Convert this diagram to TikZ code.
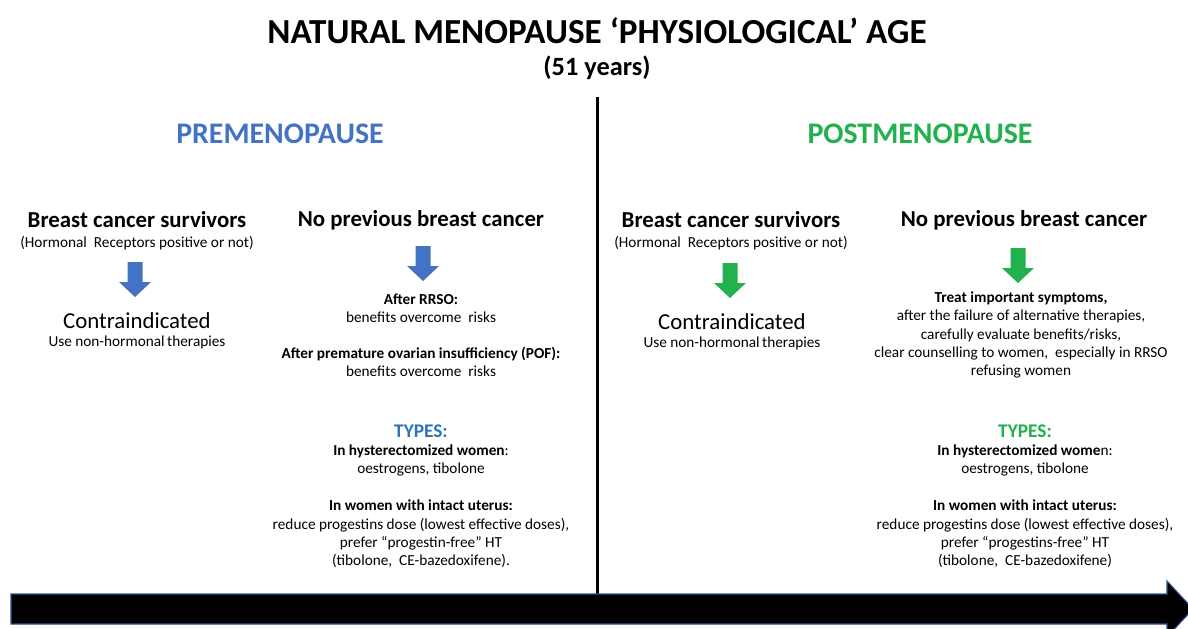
\documentclass[tikz,border=0pt]{standalone}
\usepackage{fontspec}
\setmainfont{Carlito}
\usetikzlibrary{positioning}

\definecolor{preblue}{HTML}{4472C4}
\definecolor{typeblue}{HTML}{2E75B6}
\definecolor{postgreen}{HTML}{22B14C}
\definecolor{baredge}{HTML}{2F528F}

\tikzset{
  heading/.style={font=\fontsize{13}{15}\selectfont\bfseries, inner sep=0pt},
  phase/.style={font=\fontsize{17}{20}\selectfont\bfseries, inner sep=0pt},
  verdict/.style={font=\fontsize{13}{15}\selectfont, inner sep=0pt},
  note/.style={font=\fontsize{8.7}{10.5}\selectfont, align=center, inner sep=0pt},
  types/.style={font=\fontsize{11}{13}\selectfont\bfseries, inner sep=0pt},
  blockarrow/.pic={\fill[pic actions] (-7.5,0) -- (7.5,0) -- (7.5,20) -- (16,20) -- (0,35) -- (-16,20) -- (-7.5,20) -- cycle;}
}

\begin{document}
\begin{tikzpicture}[x=0.02cm, y=-0.02cm]
    \useasboundingbox (0,0) rectangle (1188,629);

    % Title
    \node[font=\fontsize{20}{24}\selectfont\bfseries, inner sep=0pt] (title) at (597,31) {NATURAL MENOPAUSE ‘PHYSIOLOGICAL’ AGE};
    \node[font=\fontsize{15}{18}\selectfont\bfseries, inner sep=0pt] (age) at (597,68) {(51 years)};

    % Divider and time axis
    \coordinate (divtop) at (597,97);
    \coordinate (divbot) at (597,594);
    \draw[line width=0.06cm] (divtop) -- (divbot);
    \fill[black, draw=baredge, line width=0.6pt] (11,594) -- (1167,594) -- (1167,581) -- (1193,609) -- (1167,637) -- (1167,624) -- (11,624) -- cycle;

    % Phases
    \node[phase, text=preblue] (pre) at (280,134) {PREMENOPAUSE};
    \node[phase, text=postgreen] (post) at (920,134) {POSTMENOPAUSE};

    % Premenopause, breast cancer survivors
    \node[heading] (preBCS) at (137,220) {Breast cancer survivors};
    \node[note] (preHR) at (137,243) {(Hormonal\ \ Receptors positive or not)};
    \pic[fill=preblue] (preArrA) at (135,262) {blockarrow};
    \node[verdict] (preCI) at (137,321) {Contraindicated};
    \node[note] (preNH) at (137,342) {Use non-hormonal\,therapies};

    % Premenopause, no previous breast cancer
    \node[heading] (preNo) at (421,220) {No previous breast cancer};
    \pic[fill=preblue] (preArrB) at (423,246) {blockarrow};
    \node[note] (preRRSO) at (421,308) {\textbf{After RRSO:}\\benefits overcome\ \ risks};
    \node[note] (prePOF) at (421,362) {\textbf{After premature ovarian insufficiency (POF):}\\benefits overcome\ \ risks};
    \node[types, text=typeblue] (preTypes) at (421,431) {TYPES:};
    \node[note] (preHyst) at (421,460.5) {\textbf{In hysterectomized women}:\\oestrogens, tibolone};
    \node[note] (preUter) at (421,534) {\textbf{In women with intact uterus:}\\reduce progestins dose (lowest effective doses),\\prefer “progestin-free” HT\\(tibolone,\ \ CE-bazedoxifene).};

    % Postmenopause, breast cancer survivors
    \node[heading] (postBCS) at (731,220) {Breast cancer survivors};
    \node[note] (postHR) at (731,243) {(Hormonal\ \ Receptors positive or not)};
    \pic[fill=postgreen] (postArrA) at (730,263) {blockarrow};
    \node[verdict] (postCI) at (732,322) {Contraindicated};
    \node[note] (postNH) at (732,343) {Use non-hormonal\,therapies};

    % Postmenopause, no previous breast cancer
    \node[heading] (postNo) at (1024,220) {No previous breast cancer};
    \pic[fill=postgreen] (postArrB) at (1018,248) {blockarrow};
    \node[note] (postTreat) at (1021,335) {\textbf{Treat important symptoms,}\\after the failure of alternative therapies,\\carefully evaluate benefits/risks,\\clear counselling to women,\ \ especially in RRSO\\refusing women};
    \node[types, text=postgreen] (postTypes) at (1025,431) {TYPES:};
    \node[note] (postHyst) at (1025,460.5) {\textbf{In hysterectomized wome}n:\\oestrogens, tibolone};
    \node[note] (postUter) at (1025,534) {\textbf{In women with intact uterus:}\\reduce progestins dose (lowest effective doses),\\prefer “progestins-free” HT\\(tibolone,\ \ CE-bazedoxifene)};
\end{tikzpicture}
\end{document}
